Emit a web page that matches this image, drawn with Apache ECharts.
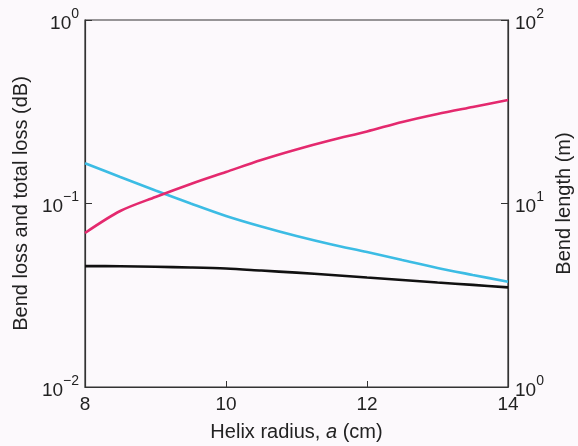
<!DOCTYPE html>
<html>
<head>
<meta charset="utf-8">
<script src="https://cdn.jsdelivr.net/npm/echarts@6/dist/echarts.min.js"></script>
<style>
  html, body { margin: 0; padding: 0; background: #fcf9fc; }
  #chart { width: 578px; height: 446px; }
</style>
</head>
<body>
<div id="chart"></div>
<script>
// helix radius a (cm)
let radius = [8, 8.5, 9, 9.5, 10, 10.5, 11, 11.5, 12, 12.5, 13, 13.5, 14];
// bend loss (dB), left axis - cyan
let bendLoss = [0.1656, 0.1395, 0.1177, 0.100, 0.0855, 0.0749, 0.0665, 0.0598, 0.0544, 0.0492, 0.0445, 0.0408, 0.0375];
// total loss (dB), left axis - black
let totalLoss = [0.0456, 0.0455, 0.0452, 0.0448, 0.0442, 0.0431, 0.0420, 0.0408, 0.0395, 0.0383, 0.0371, 0.0360, 0.0349];
// bend length (m), right axis - magenta
let bendLength = [6.91, 9.10, 10.85, 12.78, 14.85, 17.26, 19.70, 22.18, 24.69, 27.81, 30.74, 33.57, 36.64];

let xTicks = [8, 10, 12, 14];

function pairs(ys) {
  return radius.map((x, i) => [x, ys[i]]);
}

// 10 with exponent as superscript
function powLabel(v) {
  let e = Math.round(Math.log10(v));
  let s = e < 0 ? '\u2212' + (-e) : '' + e;
  return '{b|10}{s|' + s + '}';
}

let labelRich = {
  b: { fontSize: 19, fontFamily: 'Liberation Sans', color: '#222', verticalAlign: 'bottom', lineHeight: 26 },
  s: { fontSize: 14, fontFamily: 'Liberation Sans', color: '#222', verticalAlign: 'top', lineHeight: 26 }
};

let chart = echarts.init(document.getElementById('chart'));

let option = {
  backgroundColor: '#fcf9fc',
  animation: false,
  grid: {
    left: 85, right: 70, top: 20, bottom: 59,
    outerBoundsMode: 'none',
    containLabel: false,
    show: true, borderColor: '#333', borderWidth: 1.2, backgroundColor: 'transparent'
  },
  xAxis: {
    type: 'value',
    min: 8, max: 14, interval: 2,
    name: '{r|Helix radius, }{i|a}{r| (cm)}',
    nameLocation: 'middle',
    nameGap: 35,
    nameTextStyle: {
      rich: {
        r: { fontSize: 20, fontFamily: 'Liberation Sans', color: '#222' },
        i: { fontSize: 20, fontFamily: 'Liberation Sans', fontStyle: 'italic', color: '#222' }
      }
    },
    axisLine: { lineStyle: { color: '#333', width: 1.2 } },
    axisTick: { inside: true, length: 6, lineStyle: { color: '#333' } },
    axisLabel: {
      margin: 8, fontSize: 19, fontFamily: 'Liberation Sans', color: '#222',
      formatter: v => xTicks.includes(v) ? String(v) : ''
    },
    splitLine: { show: false }
  },
  yAxis: [
    {
      type: 'log', logBase: 10, min: 0.01, max: 1,
      position: 'left',
      name: 'Bend loss and total loss (dB)',
      nameLocation: 'middle',
      nameGap: 42,
      nameTextStyle: { fontSize: 20, fontFamily: 'Liberation Sans', color: '#222' },
      axisLine: { show: true, lineStyle: { color: '#333', width: 1.2 } },
      axisTick: { inside: true, length: 7, lineStyle: { color: '#333' } },
      minorTick: { show: false },
      axisLabel: { margin: 6, formatter: powLabel, rich: labelRich },
      splitLine: { show: false }
    },
    {
      type: 'log', logBase: 10, min: 1, max: 100,
      position: 'right',
      name: 'Bend length (m)',
      nameLocation: 'middle',
      nameRotate: 90,
      nameGap: 41,
      nameTextStyle: { fontSize: 20, fontFamily: 'Liberation Sans', color: '#222' },
      axisLine: { show: true, lineStyle: { color: '#333', width: 1.2 } },
      axisTick: { inside: true, length: 7, lineStyle: { color: '#333' } },
      minorTick: { show: false },
      axisLabel: { margin: 7, formatter: powLabel, rich: labelRich },
      splitLine: { show: false }
    }
  ],
  series: [
    {
      name: 'Bend loss', type: 'line', yAxisIndex: 0,
      data: pairs(bendLoss), smooth: 0.3, showSymbol: false,
      lineStyle: { color: '#3cbce4', width: 2.6 }
    },
    {
      name: 'Total loss', type: 'line', yAxisIndex: 0,
      data: pairs(totalLoss), smooth: 0.3, showSymbol: false,
      lineStyle: { color: '#111', width: 2.6 }
    },
    {
      name: 'Bend length', type: 'line', yAxisIndex: 1,
      data: pairs(bendLength), smooth: 0.3, showSymbol: false,
      lineStyle: { color: '#e4296e', width: 2.6 }
    }
  ]
};

chart.setOption(option);
</script>
</body>
</html>
